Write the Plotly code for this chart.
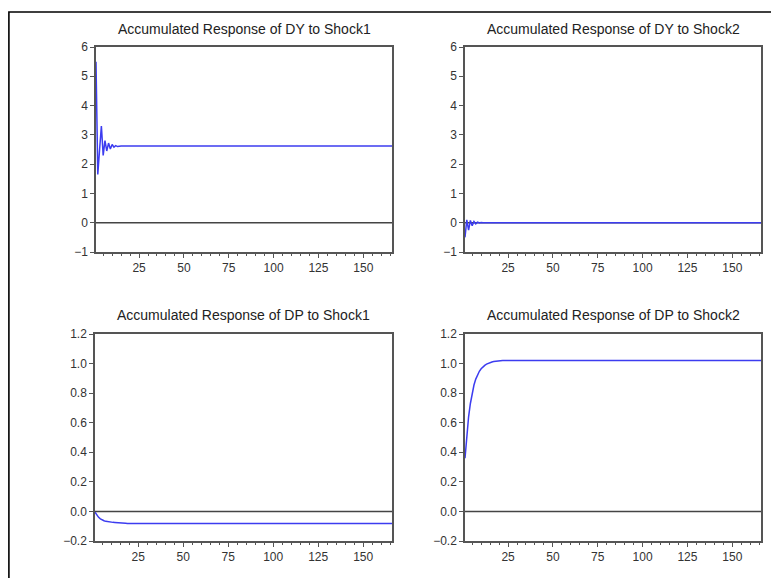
import plotly.graph_objects as go

W, H = 779, 578
OFF = 8  # page body margin offset
N = 166
periods = list(range(1, N + 1))

titles = [
    "Accumulated Response of DY to Shock1",
    "Accumulated Response of DY to Shock2",
    "Accumulated Response of DP to Shock1",
    "Accumulated Response of DP to Shock2",
]

dy_shock1_head = [5.5, 1.65, 2.5, 3.3, 2.3, 2.8, 2.45, 2.72, 2.52, 2.67, 2.58, 2.63, 2.6, 2.62]
dy_shock1 = dy_shock1_head + [2.62] * (N - len(dy_shock1_head))

dy_shock2_head = [-0.5, 0.1, -0.25, 0.08, -0.1, 0.04, -0.04, 0.02, -0.01, 0.01, 0.0]
dy_shock2 = dy_shock2_head + [0.0] * (N - len(dy_shock2_head))

dp_shock1_head = [-0.005, -0.025, -0.04, -0.05, -0.058, -0.063, -0.067, -0.07, -0.072, -0.073,
                  -0.074, -0.075, -0.075, -0.076, -0.077, -0.078, -0.079, -0.08, -0.081]
dp_shock1 = dp_shock1_head + [-0.081] * (N - len(dp_shock1_head))

dp_shock2_head = [0.36, 0.52, 0.64, 0.73, 0.80, 0.855, 0.895, 0.925, 0.948, 0.965, 0.978,
                  0.988, 0.996, 1.002, 1.007, 1.011, 1.014, 1.016, 1.018, 1.019]
dp_shock2 = dp_shock2_head + [1.02] * (N - len(dp_shock2_head))

series = [dy_shock1, dy_shock2, dp_shock1, dp_shock2]

x_ticks = [25, 50, 75, 100, 125, 150]
y_top_ticks = [-1, 0, 1, 2, 3, 4, 5, 6]
y_bot_ticks = [-0.2, 0.0, 0.2, 0.4, 0.6, 0.8, 1.0, 1.2]

# panel pixel boxes in the reference: (left, right, top, bottom)
boxes = [(96, 392, 47, 252), (465, 761, 47, 252), (95, 392, 334, 541), (465, 761, 334, 541)]
title_y = [29, 29, 315, 315]


def fx(px):
    return (px - OFF) / W


def fy(py):
    return 1 - (py - OFF) / H


fig = go.Figure()
axis_color = "#555555"
line_blue = "#3c3cf0"
tfont = dict(family="Liberation Sans, Arial", size=12, color="#333333")

for i, (s, box) in enumerate(zip(series, boxes)):
    n = i + 1
    xa = "x" if n == 1 else f"x{n}"
    ya = "y" if n == 1 else f"y{n}"
    fig.add_trace(go.Scatter(x=[periods[0], periods[-1]], y=[0, 0], mode="lines",
                             line=dict(color="#444444", width=1.6), xaxis=xa, yaxis=ya,
                             showlegend=False, hoverinfo="skip"))
    fig.add_trace(go.Scatter(x=periods, y=s, mode="lines",
                             line=dict(color=line_blue, width=1.5), xaxis=xa, yaxis=ya,
                             showlegend=False))
    l, r, t, b = box
    top = i < 2
    yticks = y_top_ticks if top else y_bot_ticks
    xkey = "xaxis" if n == 1 else f"xaxis{n}"
    ykey = "yaxis" if n == 1 else f"yaxis{n}"
    fig.layout[xkey] = dict(
        domain=[fx(l), fx(r)], anchor=ya, range=[1, N],
        tickvals=x_ticks, ticks="outside", ticklen=4, tickwidth=1.2, tickcolor=axis_color,
        minor=dict(dtick=5, tick0=0, ticks="outside", ticklen=2.5, tickwidth=1, tickcolor=axis_color),
        showline=True, linecolor=axis_color, linewidth=1.5, mirror=True,
        showgrid=False, zeroline=False, automargin=False,
        tickfont=tfont,
    )
    fig.layout[ykey] = dict(
        domain=[fy(b), fy(t)], anchor=xa,
        range=[yticks[0], yticks[-1]], tickvals=yticks,
        tickformat="d" if top else ".1f",
        ticks="outside", ticklen=4, tickwidth=1.2, tickcolor=axis_color,
        showline=True, linecolor=axis_color, linewidth=1.5, mirror=True,
        showgrid=False, zeroline=False, automargin=False,
        tickfont=tfont,
    )
    fig.add_annotation(text=titles[i], x=fx((l + r) / 2), y=fy(title_y[i]),
                       xref="paper", yref="paper", showarrow=False,
                       xanchor="center", yanchor="middle",
                       font=dict(family="Liberation Sans, Arial", size=14, color="#222222"))

fig.add_shape(type="rect", xref="paper", yref="paper",
              x0=0.9 / W, x1=1.05, y0=-0.05, y1=fy(12),
              line=dict(color="black", width=1.6))

fig.update_layout(width=W, height=H, autosize=False, margin=dict(l=0, r=0, t=0, b=0, pad=0),
                  paper_bgcolor="white", plot_bgcolor="white", showlegend=False)

fig.write_html("out.html")
